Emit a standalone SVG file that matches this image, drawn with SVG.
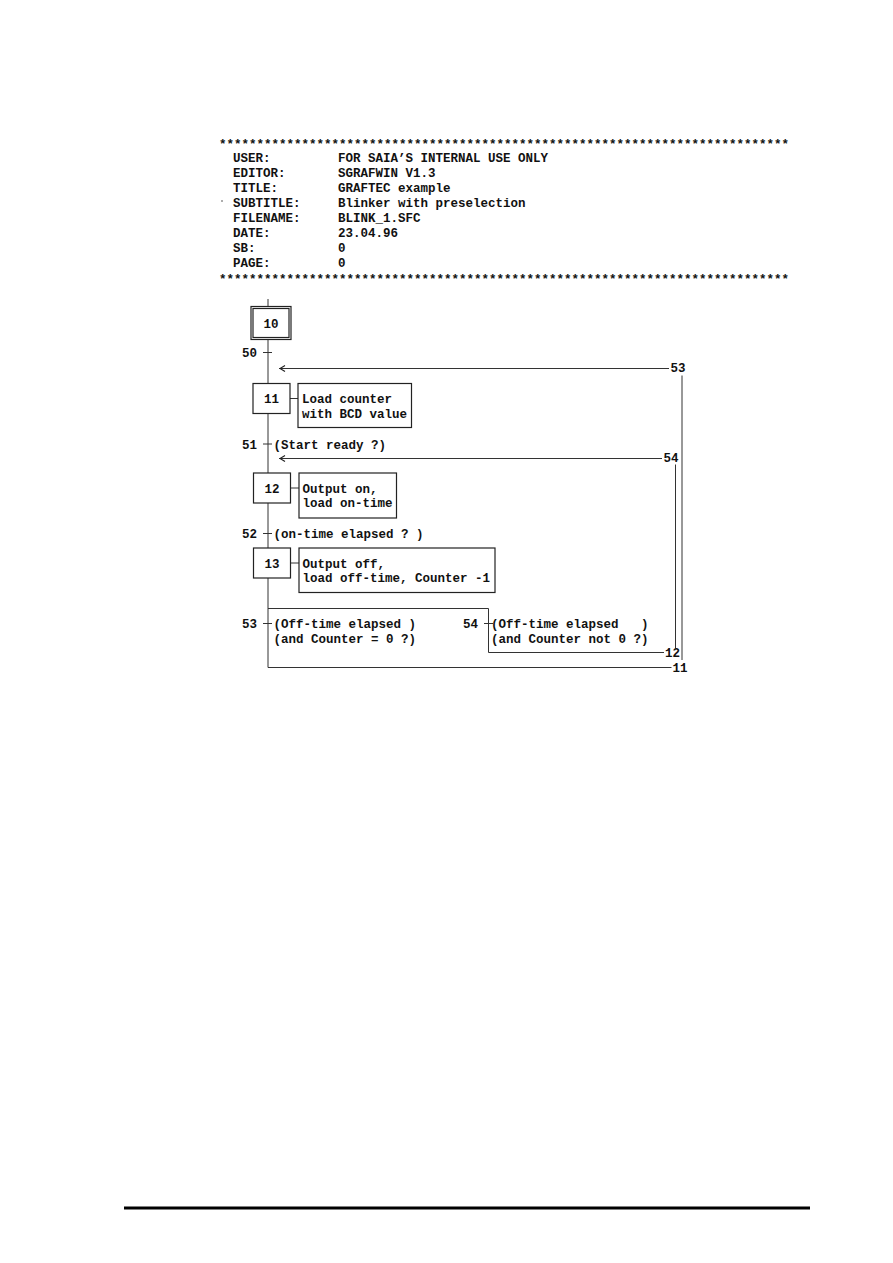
<svg xmlns="http://www.w3.org/2000/svg" width="893" height="1263" viewBox="0 0 893 1263">
<style>
text{font-family:"Liberation Mono","Courier New",monospace;font-size:12.5px;font-weight:bold;fill:#111;white-space:pre}
.c{text-anchor:middle}
.b{fill:#fff;stroke:#222;stroke-width:1.2}
.l{fill:none;stroke:#333;stroke-width:1}
</style>
<defs>
<marker id="chev" viewBox="0 0 10 10" refX="0" refY="5" markerWidth="10" markerHeight="10" markerUnits="userSpaceOnUse" orient="auto">
<path d="M6,2 L1,5 L6,8" fill="none" stroke="#222" stroke-width="1.2"/>
</marker>
</defs>
<rect width="893" height="1263" fill="#fff"/>
<g id="header">
<text x="219" y="148" textLength="570" lengthAdjust="spacing">****************************************************************************</text>
<text x="233" y="162">USER:</text><text x="338" y="162">FOR SAIA’S INTERNAL USE ONLY</text>
<text x="233" y="177">EDITOR:</text><text x="338" y="177">SGRAFWIN V1.3</text>
<text x="233" y="192">TITLE:</text><text x="338" y="192">GRAFTEC example</text>
<text x="233" y="207">SUBTITLE:</text><text x="338" y="207">Blinker with preselection</text>
<text x="233" y="222">FILENAME:</text><text x="338" y="222">BLINK_1.SFC</text>
<text x="233" y="237">DATE:</text><text x="338" y="237">23.04.96</text>
<text x="233" y="252">SB:</text><text x="338" y="252">0</text>
<text x="233" y="267">PAGE:</text><text x="338" y="267">0</text>
<text x="219" y="283" textLength="570" lengthAdjust="spacing">****************************************************************************</text>
<circle cx="222" cy="201" r="0.8" fill="#444"/>
</g>
<g id="connectors">
<line class="l" x1="268" y1="299" x2="268" y2="667.5"/>
<path class="l" d="M263,352.5 H272 M263,444 H272 M263,533.5 H272 M263,623.5 H272 M484,623.5 H493"/>
<line class="l" x1="279" y1="368.5" x2="669" y2="368.5" marker-start="url(#chev)"/>
<line class="l" x1="279" y1="458.5" x2="662" y2="458.5" marker-start="url(#chev)"/>
<path class="l" d="M268,608.5 H488.5 V652.5 H664"/>
<line class="l" x1="268" y1="667.5" x2="671.5" y2="667.5"/>
<line class="l" x1="682" y1="375.5" x2="682" y2="660"/>
<line class="l" x1="675.5" y1="464.5" x2="675.5" y2="648.5"/>
<path class="l" d="M290,398.5 H298 M290,488 H299 M290,563 H299"/>
<text x="670.5" y="372">53</text>
<text x="663.5" y="462">54</text>
<text x="665" y="657">12</text>
<text x="672.5" y="672">11</text>
</g>
<g id="step10">
<rect class="b" x="251" y="306.5" width="40" height="33"/>
<rect class="b" x="253" y="308.5" width="36" height="29"/>
<text class="c" x="271" y="327.5">10</text>
</g>
<g id="t50"><text x="242" y="357">50</text></g>
<g id="step11">
<rect class="b" x="253" y="383.5" width="37" height="30"/>
<text class="c" x="271.5" y="403">11</text>
</g>
<g id="action11">
<rect class="b" x="298" y="383.5" width="113.5" height="44"/>
<text x="302" y="403">Load counter</text>
<text x="302" y="417.5">with BCD value</text>
</g>
<g id="t51"><text x="242" y="448.5">51</text><text x="273.5" y="448.5">(Start ready ?)</text></g>
<g id="step12">
<rect class="b" x="253.5" y="473" width="37" height="30"/>
<text class="c" x="272" y="492.5">12</text>
</g>
<g id="action12">
<rect class="b" x="299" y="473" width="97.5" height="45"/>
<text x="302.5" y="493">Output on,</text>
<text x="302.5" y="507">load on-time</text>
</g>
<g id="t52"><text x="242" y="538">52</text><text x="273.5" y="538">(on-time elapsed ? )</text></g>
<g id="step13">
<rect class="b" x="253.5" y="548" width="37" height="30"/>
<text class="c" x="272" y="567.5">13</text>
</g>
<g id="action13">
<rect class="b" x="299" y="548" width="196" height="44.5"/>
<text x="302.5" y="567.5">Output off,</text>
<text x="302.5" y="582">load off-time, Counter -1</text>
</g>
<g id="t53"><text x="242" y="628">53</text><text x="273.5" y="628">(Off-time elapsed )</text><text x="273.5" y="642.5">(and Counter = 0 ?)</text></g>
<g id="t54"><text x="463" y="628">54</text><text x="491" y="628">(Off-time elapsed   )</text><text x="491" y="642.5">(and Counter not 0 ?)</text></g>
<line x1="124" y1="1208" x2="810" y2="1208" stroke="#000" stroke-width="3"/>
</svg>
